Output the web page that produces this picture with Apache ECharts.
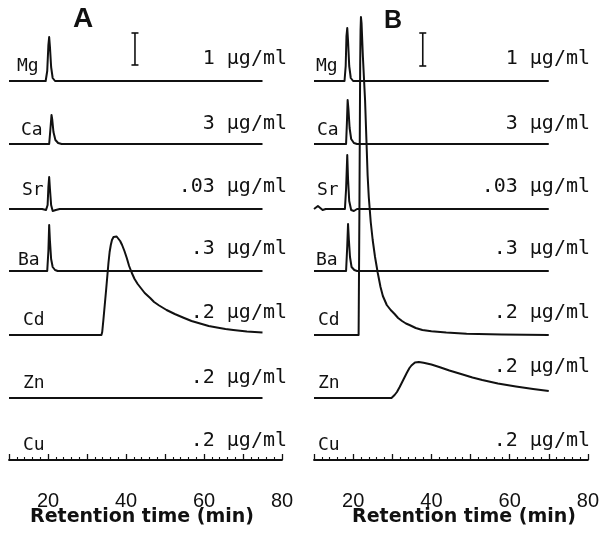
<!DOCTYPE html>
<html>
<head>
<meta charset="utf-8">
<script src="https://cdn.jsdelivr.net/npm/echarts@6/dist/echarts.min.js"></script>
<style>html,body{margin:0;padding:0;background:#fff}#c{width:602px;height:538px}</style>
</head>
<body>
<div id="c"></div>
<script>
// ---- data: [retention time (min), detector response] ----
const elements = ['Mg', 'Ca', 'Sr', 'Ba', 'Cd', 'Zn', 'Cu'];
const concentrations = ['1 \u03bcg/ml', '3 \u03bcg/ml', '.03 \u03bcg/ml', '.3 \u03bcg/ml', '.2 \u03bcg/ml', '.2 \u03bcg/ml', '.2 \u03bcg/ml'];
const traceOffsets = [379, 316, 251, 189, 125, 62, 0];
const xTickLabels = [20, 40, 60, 80];

const A_Mg = [[10,0],[19.4,0],[19.8,10],[20.1,36],[20.3,44],[20.5,34],[20.8,14],[21.2,3],[21.8,0],[75,0]];
const A_Ca = [[10,0],[20.3,0],[20.6,14],[20.9,29],[21.1,24],[21.4,12],[21.9,4],[22.6,1],[23.5,0],[75,0]];
const A_Sr = [[10,0],[18.5,0],[19.5,-1],[19.9,4],[20.1,22],[20.3,32],[20.5,20],[20.8,4],[21.2,-2],[22,-1],[23,0],[75,0]];
const A_Ba = [[10,0],[19.8,0],[20.1,20],[20.3,46],[20.5,30],[20.8,12],[21.2,4],[21.8,1],[22.5,0],[75,0]];
const A_Cd = [[10,0],[33.7,0],[33.9,3],[34.2,15],[34.9,45],[35.5,72],[35.8,83],[36.1,90],[36.4,95],[36.8,98],[37.2,99],[37.6,98.5],[38.0,97],[38.5,94],[39.0,90],[39.6,84],[40.2,77],[40.8,69],[41.5,62],[42.2,56],[43.0,51],[43.8,47],[44.8,42],[46.2,37],[47.2,33],[48.5,29.5],[50.4,25],[52.5,21],[54.6,17.5],[56.8,14],[59,11.5],[61.2,9],[63.3,7.5],[65.5,6],[67.5,5],[71,3.5],[75,2.5]];
const A_Zn = [[10,0],[75,0]];
const A_Cu = [[10,0],[75,0]];

const B_Mg = [[10,0],[17.8,0],[18.1,15],[18.3,45],[18.5,53],[18.7,40],[19.0,15],[19.4,3],[20,0],[70,0]];
const B_Ca = [[10,0],[18.2,0],[18.4,20],[18.6,44],[18.8,35],[19.1,16],[19.5,5],[20.2,1],[21,0],[70,0]];
const B_Sr = [[10,0],[10.5,1],[11,3],[11.6,1],[12.2,-1],[13,0],[17.9,0],[18.2,20],[18.5,54],[18.7,30],[19.0,8],[19.5,-1],[20.2,-2],[21,0],[70,0]];
const B_Ba = [[10,0],[18.2,0],[18.5,25],[18.7,47],[18.9,32],[19.2,14],[19.6,4],[20.3,1],[21,0],[70,0]];
const B_Cd = [[10,0],[21.4,0],[21.6,120],[21.8,270],[21.9,305],[22.0,318],[22.15,312],[22.5,278],[23.05,235],[23.4,195],[23.7,160],[24.0,138],[24.5,113],[25.0,95],[25.6,78],[26.3,62],[27.0,48],[27.6,39],[28.6,30],[29.6,25],[30.6,21],[31.5,17],[32.5,14],[33.5,11.5],[34.4,10],[36,7],[37.7,5],[40,3.8],[43.8,2.5],[49,1.2],[58,0.5],[70,0]];
const B_Zn = [[10,0],[29.8,0],[30.2,1],[30.6,3],[31.2,6],[31.9,11],[32.8,18],[33.7,25],[34.4,30],[34.9,32.5],[35.4,34.5],[35.8,35.5],[36.2,36],[36.8,36],[38,35.3],[40,33.5],[42,31],[44.6,27.5],[48,23.5],[50.5,20.5],[53,18],[57,14.5],[61.6,11.5],[66,9],[70,7]];
const B_Cu = [[10,0],[70,0]];

const scaleBarA = [[42.3,395],[42.3,427]];
const scaleBarB = [[37.8,394],[37.8,427]];

const panelA = [A_Mg, A_Ca, A_Sr, A_Ba, A_Cd, A_Zn, A_Cu];
const panelB = [B_Mg, B_Ca, B_Sr, B_Ba, B_Cd, B_Zn, B_Cu];

// ---- chart ----
const chart = echarts.init(document.getElementById('c'));
const INK = '#111';
const labelFont = '"DejaVu Sans Mono", monospace';

function xAxisFor(gi) {
  return {
    type: 'value', gridIndex: gi, min: 10, max: 80, interval: 10,
    axisLine: { show: true, lineStyle: { color: INK, width: 1.8 } },
    axisTick: { show: true, inside: true, length: 6, lineStyle: { color: INK, width: 1.3 } },
    minorTick: { show: true, splitNumber: 5, length: 3, lineStyle: { color: INK, width: 1.1 } },
    splitLine: { show: false },
    axisLabel: {
      margin: 8, color: INK, fontSize: 20, fontFamily: 'Liberation Sans',
      formatter: v => (xTickLabels.indexOf(v) >= 0 ? String(v) : '')
    }
  };
}
function yAxisFor(gi) {
  return { type: 'value', gridIndex: gi, min: -23, max: 460, show: false };
}
function seriesFor(traces, gi) {
  return traces.map((tr, i) => ({
    type: 'line', xAxisIndex: gi, yAxisIndex: gi, showSymbol: false, symbol: 'none',
    silent: true, animation: false,
    lineStyle: { color: INK, width: 2, join: 'round' },
    data: tr.map(p => [p[0], p[1] + traceOffsets[i]])
  }));
}
function scaleSeries(bar, gi) {
  return {
    type: 'line', xAxisIndex: gi, yAxisIndex: gi, symbol: 'rect', symbolSize: [7, 1.6],
    showSymbol: true, silent: true, animation: false,
    itemStyle: { color: INK }, lineStyle: { color: INK, width: 1.6 },
    data: bar
  };
}

const elemPosA = [[17,66],[21,130],[22,190],[18,260],[23,320],[23,383],[23,445]];
const elemPosB = [[316,66],[317,130],[317,190],[316,260],[318,320],[318,383],[318,445]];
const concYA = [59,124,187,249,313,378,441];
const concYB = [59,124,187,249,313,367,441];

const graphics = [];
elements.forEach((el, i) => {
  graphics.push({ type: 'text', x: elemPosA[i][0], y: elemPosA[i][1], style: { text: el, fill: INK, font: '18px ' + labelFont, textAlign: 'left', textVerticalAlign: 'middle' } });
  graphics.push({ type: 'text', x: elemPosB[i][0], y: elemPosB[i][1], style: { text: el, fill: INK, font: '18px ' + labelFont, textAlign: 'left', textVerticalAlign: 'middle' } });
  graphics.push({ type: 'text', x: 287, y: concYA[i], style: { text: concentrations[i], fill: INK, font: '20px ' + labelFont, textAlign: 'right', textVerticalAlign: 'middle' } });
  graphics.push({ type: 'text', x: 590, y: concYB[i], style: { text: concentrations[i], fill: INK, font: '20px ' + labelFont, textAlign: 'right', textVerticalAlign: 'middle' } });
});
graphics.push({ type: 'text', x: 83, y: 19, style: { text: 'A', fill: INK, font: 'bold 28px "Liberation Sans", Arial', textAlign: 'center', textVerticalAlign: 'middle' } });
graphics.push({ type: 'text', x: 393, y: 21, style: { text: 'B', fill: INK, font: 'bold 25px "Liberation Sans", Arial', textAlign: 'center', textVerticalAlign: 'middle' } });
graphics.push({ type: 'text', x: 142, y: 517, style: { text: 'Retention time (min)', fill: INK, font: 'bold 19px "DejaVu Sans", sans-serif', textAlign: 'center', textVerticalAlign: 'middle' } });
graphics.push({ type: 'text', x: 464, y: 517, style: { text: 'Retention time (min)', fill: INK, font: 'bold 19px "DejaVu Sans", sans-serif', textAlign: 'center', textVerticalAlign: 'middle' } });

chart.setOption({
  animation: false,
  backgroundColor: '#fff',
  grid: [
    { left: 9, width: 273, top: 0, bottom: 55 },
    { left: 314, width: 275, top: 0, bottom: 55 }
  ],
  xAxis: [xAxisFor(0), xAxisFor(1)],
  yAxis: [yAxisFor(0), yAxisFor(1)],
  series: [].concat(seriesFor(panelA, 0), seriesFor(panelB, 1), [scaleSeries(scaleBarA, 0), scaleSeries(scaleBarB, 1)]),
  graphic: graphics
});
</script>
</body>
</html>
